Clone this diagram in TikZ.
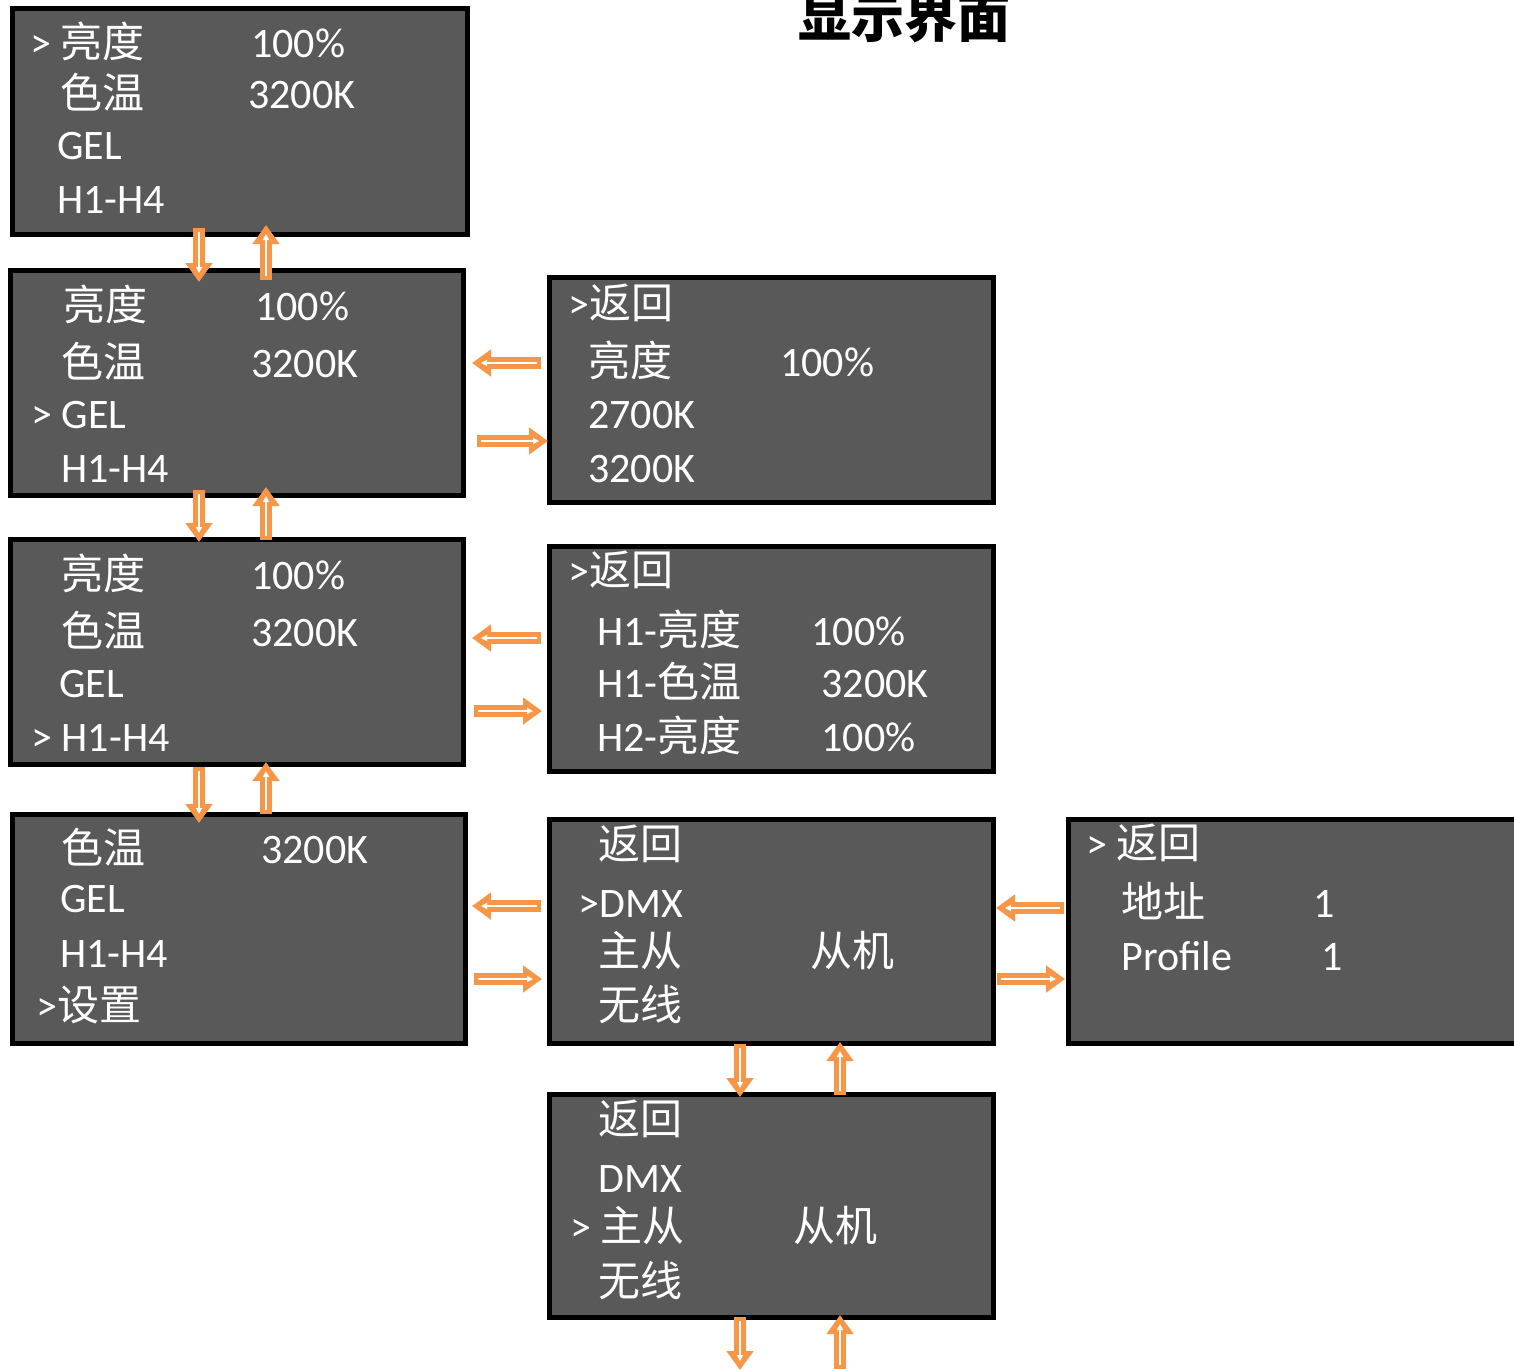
\documentclass[tikz,border=0pt]{standalone}
\usepackage{fontspec}
\setmainfont{Carlito}
\newfontfamily\cjk{Noto Sans CJK SC}
\newcommand{\zh}[1]{{\cjk #1}}
\usetikzlibrary{arrows.meta,calc}
\definecolor{screengray}{RGB}{89,89,89}
\definecolor{arrorange}{RGB}{247,150,70}

\begin{document}
\begin{tikzpicture}[x=0.5pt,y=-0.5pt,
	screen/.style={draw=black,line width=2.5pt,fill=screengray,anchor=north west,inner sep=0pt,outer sep=0pt},
	item/.style={anchor=base west,inner sep=0pt,text=white,font=\fontsize{21}{25}\selectfont},
	flow/.style={draw=arrorange,line width=6pt,-{Triangle[length=9.5pt,width=13pt]},
		postaction={draw=white,line width=1.3pt,-{Triangle[length=3pt,width=3pt]},shorten <=2pt,shorten >=4.5pt}}]
	\useasboundingbox (0,0) rectangle (1514,1371);
	\node[anchor=base,inner sep=0pt,font=\cjk\bfseries\fontsize{26.5}{30}\selectfont] (title) at (904,37) {显示界面};

	% screens
	\node[screen,minimum width=227.5pt,minimum height=113pt] (scrA) at (12.5,8.5) {};
	\node[screen,minimum width=226.5pt,minimum height=112.5pt] (scrB) at (10.5,270.5) {};
	\node[screen,minimum width=226.5pt,minimum height=112.5pt] (scrC) at (10.5,539.5) {};
	\node[screen,minimum width=226.5pt,minimum height=114.5pt] (scrD) at (12.5,814.5) {};
	\node[screen,minimum width=222pt,minimum height=112.5pt] (scrE) at (549.5,277.5) {};
	\node[screen,minimum width=222pt,minimum height=112.5pt] (scrF) at (549.5,546.5) {};
	\node[screen,minimum width=222pt,minimum height=112pt] (scrG) at (549.5,819.5) {};
	\node[screen,minimum width=230pt,minimum height=112pt] (scrH) at (1068.5,819.5) {};
	\node[screen,minimum width=222pt,minimum height=111.5pt] (scrI) at (549.5,1094.5) {};

	\node[item] (aL1) at (30,57) {> \zh{亮度}};
	\node[item] (aV1) at (251,57) {100\%};
	\node[item] (aL2) at (60,108) {\zh{色温}};
	\node[item] (aV2) at (248,108) {3200K};
	\node[item] (aL3) at (57,159) {GEL};
	\node[item] (aL4) at (57,213) {H1-H4};

	\node[item] (bL1) at (63,320) {\zh{亮度}};
	\node[item] (bV1) at (255,320) {100\%};
	\node[item] (bL2) at (61,377) {\zh{色温}};
	\node[item] (bV2) at (251,377) {3200K};
	\node[item] (bL3) at (31,428) {> GEL};
	\node[item] (bL4) at (61,482) {H1-H4};

	\node[item] (cL1) at (61,589) {\zh{亮度}};
	\node[item] (cV1) at (251,589) {100\%};
	\node[item] (cL2) at (61,646) {\zh{色温}};
	\node[item] (cV2) at (251,646) {3200K};
	\node[item] (cL3) at (59,697) {GEL};
	\node[item] (cL4) at (31,751) {> H1-H4};

	\node[item] (dL1) at (61,863) {\zh{色温}};
	\node[item] (dV1) at (261,863) {3200K};
	\node[item] (dL2) at (60,912) {GEL};
	\node[item] (dL3) at (60,967) {H1-H4};
	\node[item] (dL4) at (36,1020) {>\zh{设置}};

	\node[item] (eL1) at (568,318) {>\zh{返回}};
	\node[item] (eL2) at (588,376) {\zh{亮度}};
	\node[item] (eV2) at (780,376) {100\%};
	\node[item] (eL3) at (588,428) {2700K};
	\node[item] (eL4) at (588,482) {3200K};

	\node[item] (fL1) at (568,585) {>\zh{返回}};
	\node[item] (fL2) at (597,645) {H1-\zh{亮度}};
	\node[item] (fV2) at (811,645) {100\%};
	\node[item] (fL3) at (597,697) {H1-\zh{色温}};
	\node[item] (fV3) at (821,697) {3200K};
	\node[item] (fL4) at (597,751) {H2-\zh{亮度}};
	\node[item] (fV4) at (821,751) {100\%};

	\node[item] (gL1) at (598,859) {\zh{返回}};
	\node[item] (gL2) at (578,917) {>DMX};
	\node[item] (gL3) at (598,966) {\zh{主从}};
	\node[item] (gV3) at (810,966) {\zh{从机}};
	\node[item] (gL4) at (598,1020) {\zh{无线}};

	\node[item] (hL1) at (1086,858) {> \zh{返回}};
	\node[item] (hL2) at (1121,917) {\zh{地址}};
	\node[item] (hV2) at (1313,917) {1};
	\node[item] (hL3) at (1121,970) {Profile};
	\node[item] (hV3) at (1321,970) {1};

	\node[item] (iL1) at (598,1134) {\zh{返回}};
	\node[item] (iL2) at (598,1192) {DMX};
	\node[item] (iL3) at (570,1241) {> \zh{主从}};
	\node[item] (iV3) at (793,1241) {\zh{从机}};
	\node[item] (iL4) at (598,1296) {\zh{无线}};

	% up / down
	\draw[flow] ($(scrA.south west)+(186.5,-6.5)$) -- ($(scrB.north west)+(188.5,11.5)$);
	\draw[flow] ($(scrB.north west)+(255.5,9.5)$) -- ($(scrA.south west)+(253.5,-9.5)$);
	\draw[flow] ($(scrB.south west)+(188.5,-5.5)$) -- ($(scrC.north west)+(188.5,2.5)$);
	\draw[flow] ($(scrC.north west)+(255.5,0.5)$) -- ($(scrB.south west)+(255.5,-8.5)$);
	\draw[flow] ($(scrC.south west)+(188.5,2.5)$) -- ($(scrD.north west)+(186.5,8.5)$);
	\draw[flow] ($(scrD.north west)+(253.5,-0.5)$) -- ($(scrC.south west)+(255.5,-2.5)$);
	\draw[flow] ($(scrG.south west)+(190.5,0.5)$) -- ($(scrI.north west)+(190.5,2.5)$);
	\draw[flow] ($(scrI.north west)+(290.5,0.5)$) -- ($(scrG.south west)+(290.5,-1.5)$);
	\coordinate (outD) at (740,1370);
	\coordinate (outU) at (840,1369);
	\draw[flow] ($(scrI.south west)+(190.5,-0.5)$) -- (outD);
	\draw[flow] (outU) -- ($(scrI.south west)+(290.5,-2.5)$);

	% enter / back
	\draw[flow] ($(scrE.north west)+(-8.5,85.5)$) -- ($(scrB.north east)+(8.5,92.5)$);
	\draw[flow] ($(scrB.north east)+(13.5,170.5)$) -- ($(scrE.north west)+(-1.5,163.5)$);
	\draw[flow] ($(scrF.north west)+(-8.5,91.5)$) -- ($(scrC.north east)+(8.5,98.5)$);
	\draw[flow] ($(scrC.north east)+(10.5,171.5)$) -- ($(scrF.north west)+(-7.5,164.5)$);
	\draw[flow] ($(scrG.north west)+(-8.5,86.5)$) -- ($(scrD.north east)+(6.5,91.5)$);
	\draw[flow] ($(scrD.north east)+(8.5,164.5)$) -- ($(scrG.north west)+(-7.5,159.5)$);
	\draw[flow] ($(scrH.north west)+(-4.5,88.5)$) -- ($(scrG.north east)+(2.5,88.5)$);
	\draw[flow] ($(scrG.north east)+(3.5,159.5)$) -- ($(scrH.north west)+(-3.5,159.5)$);
\end{tikzpicture}
\end{document}
